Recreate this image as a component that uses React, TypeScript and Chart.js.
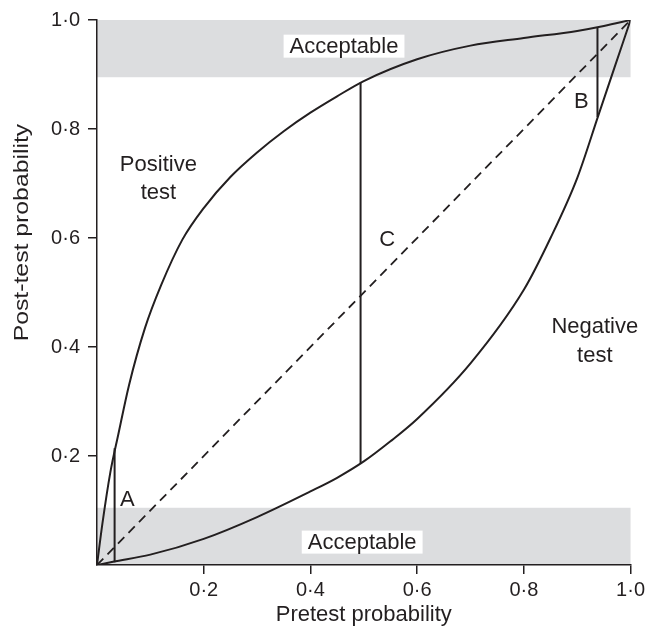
import React, { useEffect, useRef } from 'react';
import { Chart, registerables } from 'chart.js';

Chart.register(...registerables);

// Curves (pretest probability -> post-test probability)
const positiveX = [0, 0.01, 0.025, 0.04, 0.06, 0.09, 0.12, 0.16, 0.2, 0.25, 0.3, 0.35, 0.4, 0.45, 0.5, 0.6, 0.7, 0.8, 0.9, 0.95, 1.0];
const positiveY = [0, 0.075, 0.17, 0.24, 0.33, 0.435, 0.513, 0.597, 0.655, 0.712, 0.757, 0.796, 0.83, 0.86, 0.888, 0.928, 0.953, 0.967, 0.98, 0.989, 1.0];

const negativeX = [0, 0.03, 0.1, 0.2, 0.3, 0.4, 0.45, 0.5, 0.55, 0.6, 0.7, 0.8, 0.85, 0.9, 0.94, 0.97, 1.0];
const negativeY = [0, 0.006, 0.019, 0.048, 0.088, 0.135, 0.16, 0.19, 0.227, 0.268, 0.37, 0.505, 0.6, 0.71, 0.826, 0.913, 1.0];

const diagonalX = [0, 1];
const diagonalY = [0, 1];

const lineAX = [0.033, 0.033];
const lineAY = [0.005, 0.214];
const lineBX = [0.938, 0.938];
const lineBY = [0.822, 0.987];
const lineCX = [0.494, 0.494];
const lineCY = [0.186, 0.885];

const tickValues = [0.2, 0.4, 0.6, 0.8, 1.0];

const bandTop = [0.895, 1.0];
const bandBottom = [0, 0.105];

const noteTexts = ['A', 'B', 'C', 'Positive', 'test', 'Negative', 'test'];
const noteX = [0.057, 0.908, 0.544, 0.115, 0.115, 0.933, 0.933];
const noteY = [0.121, 0.852, 0.599, 0.736, 0.684, 0.438, 0.386];

const boxTexts = ['Acceptable', 'Acceptable'];
const boxX = [0.463, 0.497];
const boxY = [0.952, 0.042];

const xTitle = 'Pretest probability';
const yTitle = 'Post-test probability';

const INK = '#231f20';
const BAND = '#dcdddf';
const FONT = "'Liberation Sans', Arial, sans-serif";

const zip = (xs: number[], ys: number[]) => xs.map((x, i) => ({ x, y: ys[i] }));

const fmt = (v: number) => v.toFixed(1).replace('.', '\u00b7');

const bandsPlugin = {
  id: 'bands',
  beforeDraw(chart: any) {
    const { ctx, scales } = chart;
    const xs = scales.x;
    const ys = scales.y;
    ctx.save();
    ctx.fillStyle = BAND;
    for (const b of [bandTop, bandBottom]) {
      const x0 = xs.getPixelForValue(0);
      const x1 = xs.getPixelForValue(1);
      const y0 = ys.getPixelForValue(b[1]);
      const y1 = ys.getPixelForValue(b[0]);
      ctx.fillRect(x0, y0, x1 - x0, y1 - y0);
    }
    ctx.restore();
  },
};

const notesPlugin = {
  id: 'notes',
  afterDatasetsDraw(chart: any) {
    const { ctx, scales, chartArea } = chart;
    const xs = scales.x;
    const ys = scales.y;
    ctx.save();
    ctx.font = `22px ${FONT}`;
    ctx.textAlign = 'center';
    ctx.textBaseline = 'middle';
    boxTexts.forEach((t, i) => {
      const px = xs.getPixelForValue(boxX[i]);
      const py = ys.getPixelForValue(boxY[i]);
      const w = ctx.measureText(t).width + 12;
      const h = 23;
      ctx.fillStyle = '#ffffff';
      ctx.fillRect(px - w / 2, py - h / 2, w, h);
      ctx.fillStyle = INK;
      ctx.fillText(t, px, py + 1);
    });
    ctx.fillStyle = INK;
    noteTexts.forEach((t, i) => {
      ctx.fillText(t, xs.getPixelForValue(noteX[i]), ys.getPixelForValue(noteY[i]) + 1);
    });
    // y-axis title, slightly wide lettering as in the reference
    ctx.font = `21px ${FONT}`;
    const cx = chartArea.left - 75;
    const cy = ys.getPixelForValue(0.61);
    ctx.translate(cx, cy);
    ctx.rotate(-Math.PI / 2);
    ctx.scale(1.18, 1);
    ctx.fillText(yTitle, 0, 0);
    ctx.restore();
  },
};

export default function App() {
  const ref = useRef<HTMLCanvasElement | null>(null);
  useEffect(() => {
    document.body.style.margin = '0';
    const canvas = ref.current;
    if (!canvas) return;
    const line = (data: any[], extra: any = {}) => ({
      data,
      borderColor: INK,
      borderWidth: 2,
      pointRadius: 0,
      showLine: true,
      fill: false,
      ...extra,
    });
    const tickSetter = (scale: any) => {
      scale.ticks = tickValues.map((v) => ({ value: v }));
    };
    const chart = new Chart(canvas, {
      type: 'scatter',
      data: {
        datasets: [
          line(zip(positiveX, positiveY), { cubicInterpolationMode: 'monotone' }),
          line(zip(negativeX, negativeY), { cubicInterpolationMode: 'monotone' }),
          line(zip(diagonalX, diagonalY), { borderDash: [9, 6], borderWidth: 1.8 }),
          line(zip(lineAX, lineAY)),
          line(zip(lineBX, lineBY)),
          line(zip(lineCX, lineCY)),
        ],
      },
      options: {
        responsive: false,
        animation: false,
        layout: { padding: { top: 17, right: 16, left: 0, bottom: 0 } },
        plugins: { legend: { display: false }, tooltip: { enabled: false } },
        scales: {
          x: {
            type: 'linear',
            min: 0,
            max: 1,
            afterBuildTicks: tickSetter,
            afterFit: (s: any) => { s.height = 67; },
            grid: { drawOnChartArea: false, drawTicks: true, tickLength: 9, color: INK, lineWidth: 1.5 },
            border: { display: true, color: INK, width: 1.5 },
            ticks: { color: INK, font: { family: FONT, size: 20 }, padding: 4, callback: (v: any) => fmt(Number(v)), maxRotation: 0 },
            title: { display: true, text: xTitle, color: INK, font: { family: FONT, size: 22 }, padding: { top: 4, bottom: 4 } },
          },
          y: {
            type: 'linear',
            min: 0,
            max: 1,
            afterBuildTicks: tickSetter,
            afterFit: (s: any) => { s.width = 97; },
            grid: { drawOnChartArea: false, drawTicks: true, tickLength: 9, color: INK, lineWidth: 1.5 },
            border: { display: true, color: INK, width: 1.5 },
            ticks: { color: INK, font: { family: FONT, size: 20 }, padding: 8, callback: (v: any) => fmt(Number(v)) },
            title: { display: false, text: yTitle },
          },
        },
      },
      plugins: [bandsPlugin, notesPlugin],
    } as any);
    return () => chart.destroy();
  }, []);
  return <canvas ref={ref} width={649} height={632} style={{ display: 'block', width: 649, height: 632 }} />;
}
